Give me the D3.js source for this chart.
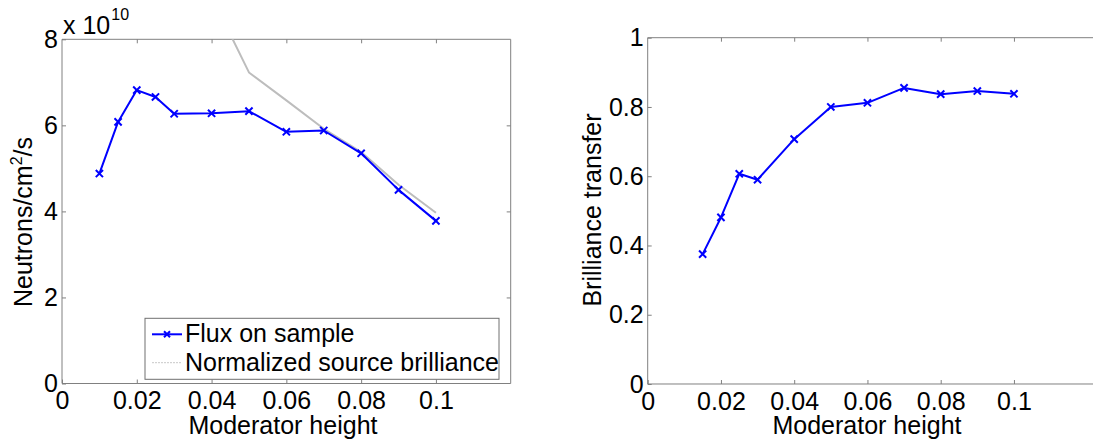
<!DOCTYPE html>
<html>
<head>
<meta charset="utf-8">
<script src="https://cdn.jsdelivr.net/npm/d3@7"></script>
<style>
  body { margin: 0; background: #fff; }
  svg { display: block; font-family: "Liberation Sans", Arial, sans-serif; }
  .tick text { font-size: 25px; fill: #000; }
</style>
</head>
<body>
<svg id="chart" width="1093" height="441"></svg>
<script>
"use strict";

// Données (hauteur du modérateur en m)
var fluxHeights = [0.01, 0.015, 0.02, 0.025, 0.03, 0.04, 0.05, 0.06, 0.07, 0.08, 0.09, 0.1];
var fluxValues = [4.88e10, 6.08e10, 6.82e10, 6.66e10, 6.27e10, 6.28e10, 6.33e10, 5.85e10, 5.88e10, 5.35e10, 4.50e10, 3.78e10];

var brillHeights = [0.04, 0.05, 0.06, 0.07, 0.08, 0.09, 0.1];
var brillValues = [9.0e10, 7.23e10, 6.58e10, 5.92e10, 5.38e10, 4.62e10, 3.97e10];

var transferHeights = [0.015, 0.02, 0.025, 0.03, 0.04, 0.05, 0.06, 0.07, 0.08, 0.09, 0.1];
var transferValues = [0.375, 0.481, 0.607, 0.590, 0.707, 0.800, 0.812, 0.855, 0.837, 0.846, 0.838];

var xTicks = [0, 0.02, 0.04, 0.06, 0.08, 0.1];
var fluxTicks = [0, 2e10, 4e10, 6e10, 8e10];
var transferTicks = [0, 0.2, 0.4, 0.6, 0.8, 1];

var legendLabels = ["Flux on sample", "Normalized source brilliance"];

var axisColor = "#808080";
var fontSize = 25;
var svg = d3.select("#chart");

/**
 * Dessine les axes façon MATLAB (graduations vers l'intérieur, boîte).
 */
function drawAxes(g, x, y, yTicks, yFormat, w, h, frameRight) {
  var bottom = g.append("g")
    .attr("transform", "translate(0," + h + ")")
    .call(d3.axisBottom(x).tickValues(xTicks).tickSizeInner(-4).tickSizeOuter(0)
      .tickPadding(8).tickFormat(function(d){ return String(d); }));
  var top = g.append("g")
    .call(d3.axisTop(x).tickValues(xTicks.slice(1)).tickSizeInner(-4).tickSizeOuter(0).tickFormat(""));
  var left = g.append("g")
    .call(d3.axisLeft(y).tickValues(yTicks).tickSizeInner(-4).tickSizeOuter(0)
      .tickPadding(4).tickFormat(yFormat));
  var axes = [bottom, top, left];
  if (frameRight) {
    axes.push(g.append("g")
      .attr("transform", "translate(" + w + ",0)")
      .call(d3.axisRight(y).tickValues(yTicks.slice(1, -1)).tickSizeInner(-4).tickSizeOuter(0).tickFormat("")));
  }
  axes.forEach(function(a){
    a.select(".domain").remove();
    a.selectAll(".tick line").attr("stroke", axisColor);
  });
  left.selectAll(".tick text").attr("dy", "0.33em");

  // boîte
  var fw = frameRight ? w : 1200;
  g.append("path")
    .attr("fill", "none")
    .attr("stroke", axisColor)
    .attr("stroke-width", 1)
    .attr("d", frameRight
      ? "M0,0H" + fw + "V" + h + "H0Z"
      : "M" + fw + ",0H0V" + h + "H" + fw);
}

function drawSeries(g, x, y, xs, ys, color, withMarkers) {
  var pts = xs.map(function(v, i){ return [v, ys[i]]; });
  var line = d3.line().x(function(d){ return x(d[0]); }).y(function(d){ return y(d[1]); });
  g.append("path")
    .datum(pts)
    .attr("fill", "none")
    .attr("stroke", color)
    .attr("stroke-width", 2)
    .attr("stroke-linejoin", "round")
    .attr("d", line);
  if (withMarkers) {
    g.selectAll(null)
      .data(pts)
      .enter()
      .append("path")
      .attr("transform", function(d){ return "translate(" + x(d[0]) + "," + y(d[1]) + ")"; })
      .attr("d", "M-3.6,-3.6L3.6,3.6M-3.6,3.6L3.6,-3.6")
      .attr("stroke", color)
      .attr("stroke-width", 2);
  }
}

/* ---------- Graphique de gauche : flux ---------- */
var L = { left: 62, top: 39.3, w: 448.7, h: 344.2 };
var gL = svg.append("g").attr("transform", "translate(" + L.left + "," + L.top + ")");
var xL = d3.scaleLinear().domain([0, 0.12]).range([0, L.w]);
var yL = d3.scaleLinear().domain([0, 8e10]).range([L.h, 0]);

svg.append("defs").append("clipPath").attr("id", "clipL")
  .append("rect").attr("width", L.w).attr("height", L.h);

drawAxes(gL, xL, yL, fluxTicks, function(d){ return String(d / 1e10); }, L.w, L.h, true);

var plotL = gL.append("g").attr("clip-path", "url(#clipL)");
drawSeries(plotL, xL, yL, brillHeights, brillValues, "#bdbdbd", false);
drawSeries(plotL, xL, yL, fluxHeights, fluxValues, "#0000ff", true);

// exposant x 10^10
var expo = svg.append("text").attr("x", 63).attr("y", 34).attr("font-size", fontSize).attr("fill", "#000");
expo.append("tspan").text("x 10");
expo.append("tspan").attr("font-size", 16).attr("dx", 1).attr("dy", -14).text("10");

// légende
var leg = svg.append("g").attr("transform", "translate(145,318.3)");
leg.append("rect").attr("width", 354).attr("height", 61)
  .attr("fill", "#fff").attr("stroke", "#707070").attr("stroke-width", 1);
leg.append("line").attr("x1", 7).attr("x2", 37).attr("y1", 16).attr("y2", 16)
  .attr("stroke", "#0000ff").attr("stroke-width", 2);
leg.append("path").attr("transform", "translate(22,16)")
  .attr("d", "M-3,-3L3,3M-3,3L3,-3").attr("stroke", "#0000ff").attr("stroke-width", 2);
leg.append("line").attr("x1", 7).attr("x2", 37).attr("y1", 44.4).attr("y2", 44.4)
  .attr("stroke", "#c8c8c8").attr("stroke-width", 1).attr("stroke-dasharray", "2,1");
leg.selectAll(".lab").data(legendLabels).enter().append("text")
  .attr("class", "lab")
  .attr("x", 40)
  .attr("y", function(d, i){ return 23.4 + i * 29; })
  .attr("font-size", fontSize)
  .text(function(d){ return d; });

// titres d'axes
svg.append("text").attr("x", 283).attr("y", 434).attr("text-anchor", "middle")
  .attr("font-size", fontSize).text("Moderator height");
var yl = svg.append("text").attr("transform", "translate(32,222) rotate(-90)")
  .attr("text-anchor", "middle").attr("font-size", fontSize);
yl.append("tspan").text("Neutrons/cm");
yl.append("tspan").attr("font-size", 16).attr("dy", -10).text("2");
yl.append("tspan").attr("dy", 10).text("/s");

/* ---------- Graphique de droite : transfert de brillance ---------- */
var R = { left: 647.7, top: 37.7, w: 439.5, h: 346.3 };
var gR = svg.append("g").attr("transform", "translate(" + R.left + "," + R.top + ")");
var xR = d3.scaleLinear().domain([0, 0.12]).range([0, R.w]);
var yR = d3.scaleLinear().domain([0, 1]).range([R.h, 0]);

// la boîte de droite déborde de l'image : pas de bord droit visible
drawAxes(gR, xR, yR, transferTicks, function(d){ return String(d); }, R.w, R.h, false);
drawSeries(gR, xR, yR, transferHeights, transferValues, "#0000ff", true);

svg.append("text").attr("x", 867).attr("y", 434).attr("text-anchor", "middle")
  .attr("font-size", fontSize).text("Moderator height");
svg.append("text").attr("transform", "translate(601,210) rotate(-90)")
  .attr("text-anchor", "middle").attr("font-size", fontSize).text("Brilliance transfer");
</script>
</body>
</html>
